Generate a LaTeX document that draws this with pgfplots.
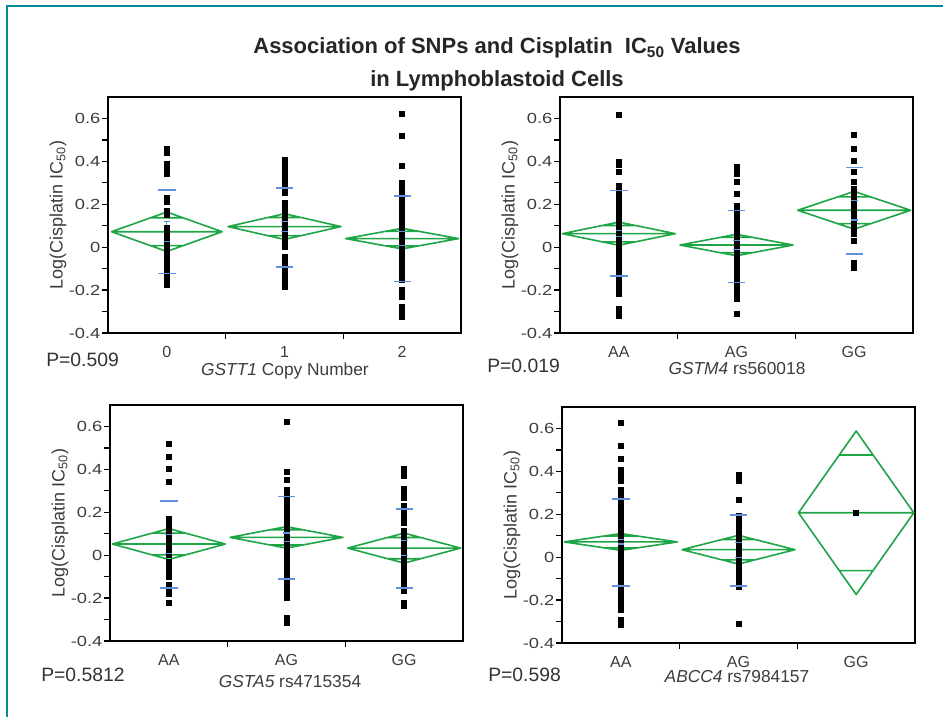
\documentclass[border=0pt]{standalone}
\usepackage{fontspec}
\setmainfont{Liberation Sans}
\newfontfamily\widefont[FakeStretch=1.25]{Liberation Sans}
\usepackage{pgfplots}
\pgfplotsset{compat=1.18}

\definecolor{diamondgreen}{RGB}{30,165,70}
\definecolor{sdblue}{RGB}{95,145,220}
\definecolor{frameteal}{RGB}{0,140,152}
\definecolor{labelgray}{RGB}{60,60,60}

\pgfplotsset{
  snppanel/.style={
    scale only axis, width=264.75pt, height=177pt,
    xmin=-0.5, xmax=2.5, ymin=-0.4, ymax=0.7,
    separate axis lines,
    axis line style={line width=1.1pt, line cap=rect},
    tick align=outside, tick pos=left,
    xtick={0.5,1.5}, xticklabels={,},
    ytick={-0.4,-0.2,0,0.2,0.4,0.6},
    yticklabels={-0.4,-0.2,0,0.2,0.4,0.6},
    minor ytick={-0.3,-0.1,0.1,0.3,0.5},
    major tick length=4.5pt, minor tick length=4.5pt,
    every tick/.style={black, line width=1pt},
    yticklabel style={font=\widefont\fontsize{11}{11}\selectfont, text=labelgray, inner sep=1pt},
    extra x ticks={0,1,2},
    extra x tick style={major tick length=0pt,
      xticklabel style={anchor=center, yshift=-14.5pt, font=\fontsize{12}{12}\selectfont, text=labelgray}},
    ylabel={Log(Cisplatin IC\textsubscript{50})},
    every axis y label/.style={at={(axis description cs:-0.142,0.5)}, rotate=90, anchor=center,
      font=\fontsize{13.5}{14}\selectfont, text=labelgray},
  },
  pts/.style={only marks, mark=square*, mark size=1.9pt, black},
  diam/.style={diamondgreen, line width=1.2pt, no markers, line join=round},
  sd/.style={only marks, sdblue, mark=-, mark size=6.5pt, mark options={line width=1.3pt}},
  se/.style={sdblue, line width=0.9pt, mark=-, mark size=2.5pt, mark options={line width=0.9pt}},
}

% mean diamond, drawn as one path: centre, mean, CI half-height, half-width
\newcommand\meandiamond[4]{%
  \pgfmathsetmacro\dL{#1-#4}\pgfmathsetmacro\dR{#1+#4}%
  \pgfmathsetmacro\dT{#2+#3}\pgfmathsetmacro\dB{#2-#3}%
  \pgfmathsetmacro\oL{#1-0.293*#4}\pgfmathsetmacro\oR{#1+0.293*#4}%
  \pgfmathsetmacro\oT{#2+0.7071*#3}\pgfmathsetmacro\oB{#2-0.7071*#3}%
  \addplot[diam] coordinates {(\dL,#2) (#1,\dT) (\dR,#2) (#1,\dB) (\dL,#2) (\dR,#2)
    (\oR,\oB) (\oL,\oB) (\dL,#2) (\oL,\oT) (\oR,\oT)};
}

\begin{document}
\begin{tikzpicture}[x=0.75pt, y=0.75pt]
\path[use as bounding box] (0,0) rectangle (943,717);
\draw[frameteal, line width=1.5pt] (7,0) -- (7,711) -- (943,711);

% ---------- GSTT1 ----------
\begin{axis}[snppanel, at={(81pt,288pt)}, anchor=south west, extra x tick labels={0,1,2}]
\addplot[pts] coordinates {(0,0.457)(0,0.44)(0,0.387)(0,0.375)(0,0.352)(0,0.344)(0,0.232)(0,0.22)(0,0.21)
  (0,0.17)(0,0.16)(0,0.15)(0,0.088)(0,0.076)(0,0.064)(0,0.052)(0,0.04)(0,0.028)(0,0.016)(0,0.004)
  (0,-0.008)(0,-0.02)(0,-0.032)(0,-0.044)(0,-0.056)(0,-0.07)(0,-0.082)(0,-0.094)(0,-0.106)(0,-0.118)
  (0,-0.13)(0,-0.145)(0,-0.16)(0,-0.174)};
\addplot[pts] coordinates {(1,0.405)(1,0.381)(1,0.37)(1,0.36)(1,0.349)(1,0.335)(1,0.322)(1,0.31)(1,0.298)
  (1,0.279)(1,0.268)(1,0.256)(1,0.205)(1,0.193)(1,0.181)(1,0.169)(1,0.157)(1,0.145)(1,0.135)(1,0.123)
  (1,0.111)(1,0.099)(1,0.087)(1,0.075)(1,0.065)(1,0.056)(1,0.045)(1,0.034)(1,0.023)(1,0)(1,-0.046)
  (1,-0.058)(1,-0.07)(1,-0.084)(1,-0.098)(1,-0.11)(1,-0.116)(1,-0.14)(1,-0.152)(1,-0.164)(1,-0.176)(1,-0.186)};
\addplot[pts] coordinates {(2,0.623)(2,0.519)(2,0.381)(2,0.302)(2,0.274)(2,0.262)(2,0.251)(2,0.233)(2,0.219)
  (2,0.205)(2,0.186)(2,0.174)(2,0.162)(2,0.15)(2,0.138)(2,0.126)(2,0.114)(2,0.102)(2,0.09)(2,0.078)
  (2,0.066)(2,0.054)(2,0.042)(2,0.03)(2,0.018)(2,0.006)(2,-0.006)(2,-0.018)(2,-0.03)(2,-0.042)(2,-0.054)
  (2,-0.066)(2,-0.078)(2,-0.09)(2,-0.102)(2,-0.114)(2,-0.126)(2,-0.138)(2,-0.153)(2,-0.2)(2,-0.216)
  (2,-0.233)(2,-0.279)(2,-0.295)(2,-0.31)(2,-0.326)};
\meandiamond{0}{0.072}{0.092}{0.47}
\meandiamond{1}{0.096}{0.06}{0.48}
\meandiamond{2}{0.04}{0.048}{0.48}
\addplot[sd] coordinates {(0,0.266)(0,-0.123)(1,0.277)(1,-0.094)(2,0.24)(2,-0.16)};
\addplot[se] coordinates {(0,0.118)(0,0.025)};
\addplot[se] coordinates {(1,0.118)(1,0.074)};
\addplot[se] coordinates {(2,0.072)(2,0.008)};
\end{axis}

% ---------- GSTM4 ----------
\begin{axis}[snppanel, at={(420pt,288pt)}, anchor=south west, extra x tick labels={AA,AG,GG}]
\addplot[pts] coordinates {(0,0.618)(0,0.4)(0,0.386)(0,0.353)(0,0.284)(0,0.272)(0,0.26)(0,0.248)(0,0.236)
  (0,0.224)(0,0.212)(0,0.2)(0,0.188)(0,0.176)(0,0.164)(0,0.152)(0,0.14)(0,0.128)(0,0.116)(0,0.104)
  (0,0.092)(0,0.08)(0,0.068)(0,0.056)(0,0.044)(0,0.032)(0,0.02)(0,0.008)(0,-0.004)(0,-0.016)(0,-0.028)
  (0,-0.04)(0,-0.052)(0,-0.064)(0,-0.08)(0,-0.096)(0,-0.124)(0,-0.136)(0,-0.148)(0,-0.16)(0,-0.172)
  (0,-0.19)(0,-0.216)(0,-0.286)(0,-0.3)(0,-0.318)};
\addplot[pts] coordinates {(1,0.376)(1,0.36)(1,0.344)(1,0.307)(1,0.247)(1,0.191)(1,0.179)(1,0.167)(1,0.155)
  (1,0.143)(1,0.131)(1,0.119)(1,0.107)(1,0.095)(1,0.083)(1,0.071)(1,0.059)(1,0.047)(1,0.035)(1,0.023)
  (1,0.011)(1,-0.001)(1,-0.013)(1,-0.025)(1,-0.037)(1,-0.049)(1,-0.061)(1,-0.073)(1,-0.085)(1,-0.097)
  (1,-0.109)(1,-0.121)(1,-0.133)(1,-0.145)(1,-0.157)(1,-0.169)(1,-0.181)(1,-0.193)(1,-0.205)(1,-0.225)
  (1,-0.24)(1,-0.31)};
\addplot[pts] coordinates {(2,0.524)(2,0.46)(2,0.404)(2,0.353)(2,0.307)(2,0.274)(2,0.262)(2,0.25)(2,0.238)
  (2,0.226)(2,0.214)(2,0.182)(2,0.168)(2,0.154)(2,0.145)(2,0.13)(2,0.118)(2,0.104)(2,0.09)(2,0.061)
  (2,0.03)(2,-0.072)(2,-0.084)(2,-0.096)};
\meandiamond{0}{0.063}{0.054}{0.48}
\meandiamond{1}{0.01}{0.05}{0.48}
\meandiamond{2}{0.172}{0.088}{0.48}
\addplot[sd] coordinates {(0,0.264)(0,-0.136)(1,0.171)(1,-0.165)(2,0.372)(2,-0.033)};
\addplot[se] coordinates {(0,0.078)(0,0.048)};
\addplot[se] coordinates {(1,0.03)(1,-0.01)};
\addplot[se] coordinates {(2,0.217)(2,0.127)};
\end{axis}

% ---------- GSTA5 ----------
\begin{axis}[snppanel, at={(82.5pt,57pt)}, anchor=south west, extra x tick labels={AA,AG,GG}]
\addplot[pts] coordinates {(0,0.519)(0,0.457)(0,0.402)(0,0.343)(0,0.168)(0,0.155)(0,0.142)(0,0.13)(0,0.114)
  (0,0.09)(0,0.075)(0,0.06)(0,0.045)(0,0.03)(0,0.015)(0,0)(0,-0.03)(0,-0.045)(0,-0.06)(0,-0.075)
  (0,-0.09)(0,-0.1)(0,-0.14)(0,-0.155)(0,-0.17)(0,-0.182)(0,-0.221)};
\addplot[pts] coordinates {(1,0.62)(1,0.387)(1,0.35)(1,0.305)(1,0.278)(1,0.266)(1,0.254)(1,0.242)(1,0.23)
  (1,0.218)(1,0.206)(1,0.194)(1,0.182)(1,0.17)(1,0.158)(1,0.146)(1,0.134)(1,0.122)(1,0.11)(1,0.098)
  (1,0.086)(1,0.074)(1,0.062)(1,0.05)(1,0.038)(1,0.026)(1,0.014)(1,0.002)(1,-0.01)(1,-0.022)(1,-0.034)
  (1,-0.046)(1,-0.057)(1,-0.08)(1,-0.092)(1,-0.104)(1,-0.116)(1,-0.128)(1,-0.14)(1,-0.152)(1,-0.164)
  (1,-0.176)(1,-0.188)(1,-0.2)(1,-0.29)(1,-0.303)(1,-0.314)};
\addplot[pts] coordinates {(2,0.402)(2,0.385)(2,0.371)(2,0.309)(2,0.288)(2,0.27)(2,0.231)(2,0.215)(2,0.2)
  (2,0.175)(2,0.153)(2,0.114)(2,0.1)(2,0.086)(2,0.07)(2,0.055)(2,0.04)(2,0.025)(2,0.01)(2,-0.005)
  (2,-0.02)(2,-0.035)(2,-0.05)(2,-0.065)(2,-0.08)(2,-0.095)(2,-0.11)(2,-0.125)(2,-0.14)(2,-0.155)
  (2,-0.166)(2,-0.221)(2,-0.237)};
\meandiamond{0}{0.052}{0.072}{0.48}
\meandiamond{1}{0.083}{0.05}{0.48}
\meandiamond{2}{0.033}{0.07}{0.48}
\addplot[sd] coordinates {(0,0.254)(0,-0.154)(1,0.273)(1,-0.112)(2,0.215)(2,-0.154)};
\addplot[se] coordinates {(0,0.097)(0,0.007)};
\addplot[se] coordinates {(1,0.103)(1,0.063)};
\addplot[se] coordinates {(2,0.068)(2,-0.002)};
\end{axis}

% ---------- ABCC4 ----------
\begin{axis}[snppanel, at={(421.5pt,55.5pt)}, anchor=south west, extra x tick labels={AA,AG,GG}]
\addplot[pts] coordinates {(0,0.626)(0,0.52)(0,0.46)(0,0.409)(0,0.395)(0,0.38)(0,0.367)(0,0.354)(0,0.315)
  (0,0.284)(0,0.272)(0,0.26)(0,0.248)(0,0.236)(0,0.224)(0,0.212)(0,0.2)(0,0.188)(0,0.176)(0,0.164)
  (0,0.152)(0,0.14)(0,0.128)(0,0.116)(0,0.104)(0,0.092)(0,0.08)(0,0.068)(0,0.056)(0,0.044)(0,0.032)
  (0,0.02)(0,0.008)(0,-0.004)(0,-0.016)(0,-0.028)(0,-0.04)(0,-0.052)(0,-0.064)(0,-0.076)(0,-0.088)
  (0,-0.1)(0,-0.112)(0,-0.124)(0,-0.136)(0,-0.148)(0,-0.16)(0,-0.172)(0,-0.184)(0,-0.196)(0,-0.208)
  (0,-0.22)(0,-0.232)(0,-0.245)(0,-0.291)(0,-0.302)(0,-0.314)};
\addplot[pts] coordinates {(1,0.385)(1,0.37)(1,0.354)(1,0.269)(1,0.194)(1,0.182)(1,0.17)(1,0.158)(1,0.146)
  (1,0.134)(1,0.122)(1,0.11)(1,0.098)(1,0.086)(1,0.074)(1,0.062)(1,0.05)(1,0.038)(1,0.026)(1,0.014)
  (1,0.002)(1,-0.01)(1,-0.022)(1,-0.034)(1,-0.046)(1,-0.058)(1,-0.07)(1,-0.082)(1,-0.094)(1,-0.106)
  (1,-0.118)(1,-0.13)(1,-0.136)(1,-0.311)};
\addplot[pts] coordinates {(2,0.207)};
\meandiamond{0}{0.071}{0.039}{0.48}
\meandiamond{1}{0.035}{0.067}{0.48}
\meandiamond{2}{0.207}{0.381}{0.49}
\addplot[sd] coordinates {(0,0.272)(0,-0.136)(1,0.197)(1,-0.136)};
\addplot[se] coordinates {(0,0.081)(0,0.061)};
\addplot[se] coordinates {(1,0.07)(1,0)};
\end{axis}

% ---------- title, P values, group captions ----------
\begin{scope}[every node/.style={font=\bfseries\fontsize{16.5}{20}\selectfont, text=black!85, anchor=base}]
\node at (497,663) {Association of SNPs and Cisplatin\ \ IC\textsubscript{50} Values};
\node at (497,630) {in Lymphoblastoid Cells};
\end{scope}
\begin{scope}[every node/.style={font=\fontsize{14.5}{16}\selectfont, text=black!80, anchor=base west, inner sep=0pt}]
\node at (46,350) {P=0.509};
\node at (487,344) {P=0.019};
\node at (41,35) {P=0.5812};
\node at (488,35) {P=0.598};
\end{scope}
\begin{scope}[every node/.style={font=\fontsize{13}{15}\selectfont, text=labelgray, anchor=base, inner sep=0pt}]
\node at (285,341) {\textit{GSTT1} Copy Number};
\node at (737,342) {\textit{GSTM4} rs560018};
\node at (290,29) {\textit{GSTA5} rs4715354};
\node at (737,34) {\textit{ABCC4} rs7984157};
\end{scope}
\end{tikzpicture}
\end{document}
